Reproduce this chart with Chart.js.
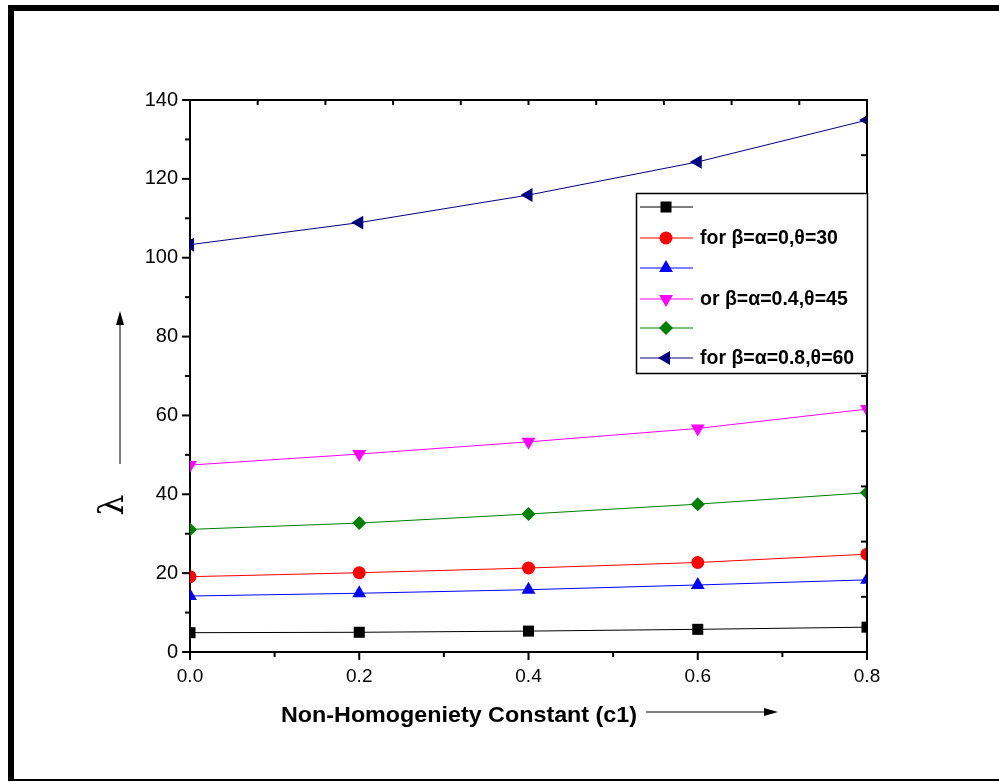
<!DOCTYPE html>
<html>
<head>
<meta charset="utf-8">
<script src="https://cdn.jsdelivr.net/npm/chart.js@4.4.0/dist/chart.umd.min.js"></script>
<style>
  body { margin: 0; background: #fff; }
  canvas { display: block; }
</style>
</head>
<body>
<canvas id="chart" width="999" height="782"></canvas>
<script>
// values
const c1Values = [0, 0.2, 0.4, 0.6, 0.8];
const lambdaBlack = [4.9, 5.0, 5.3, 5.75, 6.3];
const lambdaRed = [19.1, 20.1, 21.3, 22.7, 24.8];
const lambdaBlue = [14.2, 14.9, 15.8, 17.0, 18.3];
const lambdaMagenta = [47.4, 50.2, 53.3, 56.7, 61.6];
const lambdaGreen = [31.1, 32.7, 35.0, 37.5, 40.4];
const lambdaNavy = [103.3, 108.9, 115.9, 124.3, 134.9];
const legendLabels = ['', 'for β=α=0,θ=30', '', 'or β=α=0.4,θ=45', '', 'for β=α=0.8,θ=60'];

const toPoints = (vals) => c1Values.map((x, i) => ({ x: x, y: vals[i] }));

const makeSet = (label, vals, color, style, radius, rotation) => ({
  label: label,
  data: toPoints(vals),
  borderColor: color,
  backgroundColor: color,
  borderWidth: 1,
  pointStyle: style,
  pointRadius: radius,
  pointRotation: rotation,
  pointBorderWidth: 0,
  pointHoverRadius: radius,
  tension: 0
});

const line = (ctx, x1, y1, x2, y2) => {
  ctx.beginPath();
  ctx.moveTo(x1, y1);
  ctx.lineTo(x2, y2);
  ctx.stroke();
};

const framePlugin = {
  id: 'frame',
  beforeDraw(chart) {
    const ctx = chart.ctx;
    ctx.save();
    ctx.fillStyle = '#fff';
    ctx.fillRect(0, 0, chart.width, chart.height);
    ctx.restore();
  },
  afterDraw(chart) {
    const ctx = chart.ctx;
    const { left, right, top, bottom } = chart.chartArea;
    const xs = chart.scales.x;
    const ys = chart.scales.y;
    ctx.save();

    // outer frame
    ctx.fillStyle = '#000';
    ctx.fillRect(8, 5, 991, 6);
    ctx.fillRect(8, 5, 6, 776);
    ctx.fillRect(8, 779, 991, 2);

    // top + right axis lines
    ctx.strokeStyle = '#000';
    ctx.lineWidth = 2;
    line(ctx, left - 1, top, right + 1, top);
    line(ctx, right, top, right, bottom + 1);

    // ticks
    for (let v = 0; v <= 140; v += 10) {
      const y = ys.getPixelForValue(v);
      const len = v % 20 === 0 ? 8 : 5;
      line(ctx, left - len, y, left, y);
    }
    for (let i = 0; i <= 8; i++) {
      const x = xs.getPixelForValue(i / 10);
      const len = i % 2 === 0 ? 8 : 5;
      line(ctx, x, bottom, x, bottom + len);
    }
    for (let i = 1; i < 10; i++) {
      const x = left + (right - left) * i / 10;
      line(ctx, x, top, x, top + 5);
      const y = top + (bottom - top) * i / 10;
      line(ctx, right - 6, y, right, y);
    }

    // legend
    const bx = 636, by = 193, bw = 231, bh = 180;
    ctx.fillStyle = '#fff';
    ctx.fillRect(bx, by, bw, bh);
    ctx.lineWidth = 1.5;
    ctx.strokeRect(bx + 0.5, by + 0.5, bw, bh);
    const rows = [207, 238, 268, 299, 328, 358];
    chart.data.datasets.forEach((ds, i) => {
      const y = rows[i];
      ctx.strokeStyle = ds.borderColor;
      ctx.lineWidth = 1;
      line(ctx, 640, y, 693, y);
      ctx.fillStyle = ds.backgroundColor;
      Chart.helpers.drawPoint(ctx, {
        pointStyle: ds.pointStyle,
        radius: ds.pointRadius,
        rotation: ds.pointRotation,
        borderWidth: 0
      }, 666, y);
      ctx.fillStyle = '#000';
      ctx.font = 'bold 19.5px "Liberation Sans", Arial, sans-serif';
      ctx.textBaseline = 'middle';
      ctx.textAlign = 'left';
      ctx.fillText(legendLabels[i], 700, y + 1);
    });

    // x title, squeezed to the width seen in the picture
    ctx.fillStyle = '#000';
    ctx.strokeStyle = '#000';
    const xTitle = 'Non-Homogeniety Constant (c1)';
    ctx.font = 'bold 22px "Liberation Sans", Arial, sans-serif';
    ctx.textAlign = 'left';
    ctx.textBaseline = 'middle';
    const tw = ctx.measureText(xTitle).width;
    ctx.save();
    ctx.translate(281, 716);
    ctx.scale(356 / tw, 1);
    ctx.fillText(xTitle, 0, 0);
    ctx.restore();
    ctx.lineWidth = 1;
    line(ctx, 646, 712, 768, 712);
    ctx.beginPath();
    ctx.moveTo(778, 712);
    ctx.lineTo(764, 708);
    ctx.lineTo(764, 716);
    ctx.closePath();
    ctx.fill();

    // y title
    ctx.save();
    ctx.translate(114, 505);
    ctx.rotate(-Math.PI / 2);
    ctx.font = '33px "DejaVu Serif", serif';
    ctx.textAlign = 'center';
    ctx.fillText('λ', 0, 0);
    ctx.restore();
    line(ctx, 120, 464, 120, 322);
    ctx.beginPath();
    ctx.moveTo(120, 311);
    ctx.lineTo(116, 325);
    ctx.lineTo(124, 325);
    ctx.closePath();
    ctx.fill();

    ctx.restore();
  }
};

new Chart(document.getElementById('chart'), {
  type: 'line',
  data: {
    datasets: [
      makeSet(legendLabels[0], lambdaBlack, '#000000', 'rect', 7.8, 0),
      makeSet(legendLabels[1], lambdaRed, '#ff0000', 'circle', 6.5, 0),
      makeSet(legendLabels[2], lambdaBlue, '#0000ff', 'triangle', 8, 0),
      makeSet(legendLabels[3], lambdaMagenta, '#ff00ff', 'triangle', 8, 180),
      makeSet(legendLabels[4], lambdaGreen, '#008000', 'rectRot', 7, 0),
      makeSet(legendLabels[5], lambdaNavy, '#000080', 'triangle', 8, -90)
    ]
  },
  options: {
    responsive: false,
    devicePixelRatio: 1,
    animation: false,
    layout: { padding: { top: 100, right: 132, left: 0, bottom: 0 } },
    plugins: {
      legend: { display: false },
      tooltip: { enabled: false }
    },
    scales: {
      x: {
        type: 'linear',
        min: 0,
        max: 0.8,
        grid: { display: false, drawTicks: false },
        border: { display: true, color: '#000', width: 2 },
        ticks: {
          stepSize: 0.2,
          padding: 13,
          color: '#000',
          font: { family: '"Liberation Sans", Arial, sans-serif', size: 19 },
          callback: (v) => v.toFixed(1)
        },
        afterFit: (scale) => { scale.height = 130; }
      },
      y: {
        min: 0,
        max: 140,
        grid: { display: false, drawTicks: false },
        border: { display: true, color: '#000', width: 2 },
        ticks: {
          stepSize: 20,
          padding: 12,
          color: '#000',
          font: { family: '"Liberation Sans", Arial, sans-serif', size: 20 }
        },
        afterFit: (scale) => { scale.width = 190; }
      }
    }
  },
  plugins: [framePlugin]
});
</script>
</body>
</html>
